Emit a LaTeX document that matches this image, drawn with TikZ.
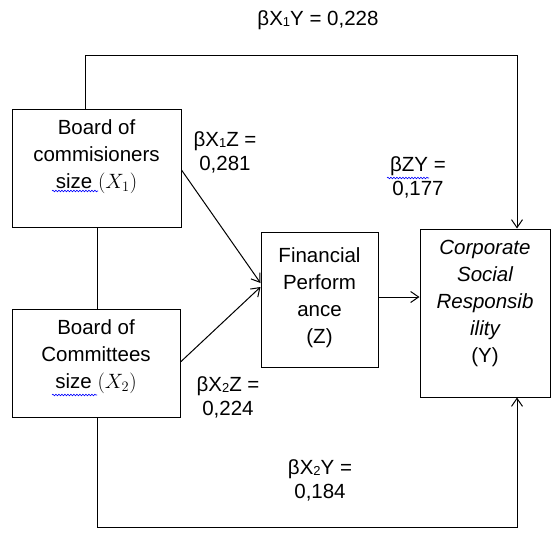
\documentclass[tikz,border=0pt]{standalone}
\usepackage{fontspec}
\setmainfont{Liberation Sans}
\usetikzlibrary{arrows.meta,decorations.pathmorphing}
\newcommand{\sdig}[1]{\raisebox{-0.1ex}{\fontsize{13}{13}\selectfont #1}}
\begin{document}
\begin{tikzpicture}[x=1pt,y=-1pt,
  box/.style={draw,line width=1pt,inner sep=0pt},
  txt/.style={align=center,font=\fontsize{20.5}{27}\selectfont,inner sep=0pt},
  coef/.style={align=center,font=\fontsize{20.5}{24}\selectfont,inner sep=0pt},
  arr/.style={line width=1pt,-{Straight Barb[length=8pt,width=11pt]}},
  ln/.style={line width=1pt},
  wave/.style={blue,line width=0.6pt,decorate,decoration={snake,amplitude=0.8pt,segment length=3pt}}]
\useasboundingbox (0,0) rectangle (552,538);
% boxes
\node[box,minimum width=169pt,minimum height=118pt] (x1) at (96.5,168) {};
\node[box,minimum width=168pt,minimum height=108pt] (x2) at (96,363) {};
\node[box,minimum width=117pt,minimum height=135pt] (fp) at (319.5,299.5) {};
\node[box,minimum width=130pt,minimum height=168pt] (csr) at (485,313) {};
% texts
\node[txt] (tx1) at (96.5,157) {Board of\\commisioners\\size $(X_1)$};
\node[txt] (tx2) at (96,357) {Board of\\Committees\\size $(X_2)$};
\node[txt] (tfp) at (319.5,297.5) {Financial\\Perform\\ance\\(Z)};
\node[txt] (tcsr) at (485,303) {\itshape Corporate\\\itshape Social\\\itshape Responsib\\\itshape ility\\(Y)};
% coefficients
\node[coef] (c1) at (318,20) {βX\sdig{1}Y = 0,228};
\node[coef] (c2) at (225,152) {βX\sdig{1}Z =\\0,281};
\node[coef] (c3) at (418,177) {βZY =\\0,177};
\node[coef] (c4) at (228,397) {βX\sdig{2}Z =\\0,224};
\node[coef] (c5) at (320,480) {βX\sdig{2}Y =\\0,184};
% spell-check underlines
\draw[wave] (52,191) -- (98,191);
\draw[wave] (52,395) -- (97,395);
\draw[wave] (387,178) -- (429,178);
% connector waypoints
\coordinate (t1) at (85,55);
\coordinate (t2) at (517,55);
\coordinate (b1) at (97,527);
\coordinate (b2) at (517,527);
% connectors
\draw[arr] (x1.north -| t1) -- (t1) -- (t2) -- (t2 |- csr.north);
\draw[ln] (x1.south -| b1) -- (x2.north -| b1);
\draw[arr] (x2.south -| b1) -- (b1) -- (b2) -- (b2 |- csr.south);
\draw[arr] (x1.east |- 0,170) -- (fp.west |- 0,283);
\draw[arr] (x2.east |- 0,362) -- (fp.west |- 0,287);
\draw[arr] (fp.east |- 0,297) -- (csr.west |- 0,297);
\end{tikzpicture}
\end{document}
